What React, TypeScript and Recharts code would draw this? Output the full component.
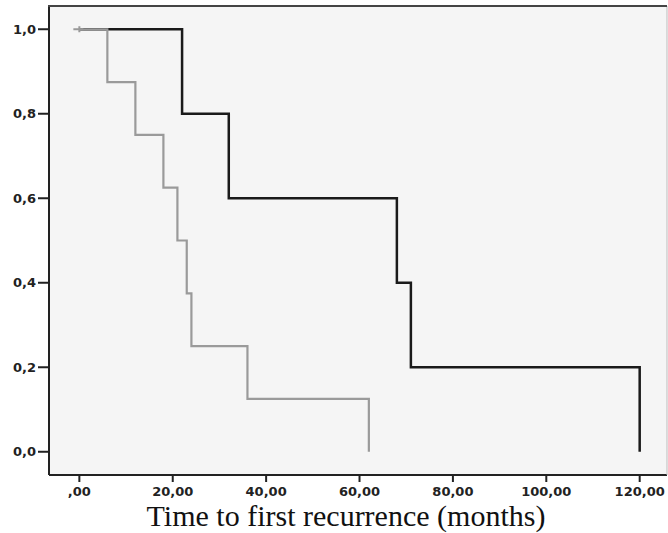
import React from 'react';
import {
  ComposedChart, Line, Scatter, XAxis, YAxis, CartesianGrid,
} from 'recharts';

// Kaplan-Meier steps: time (months) and cumulative recurrence-free proportion
const groupATimes = [0, 22, 32, 68, 71, 120];
const groupASurvival = [1, 0.8, 0.6, 0.4, 0.2, 0];

const groupBTimes = [0, 6, 12, 18, 21, 23, 24, 36, 62];
const groupBSurvival = [1, 0.875, 0.75, 0.625, 0.5, 0.375, 0.25, 0.125, 0];

// censored observations (drawn as +)
const censoredTimes = [0];
const censoredSurvival = [1];

const xTicks = [0, 20, 40, 60, 80, 100, 120];
const yTicks = [0, 0.2, 0.4, 0.6, 0.8, 1];

const xDomain = [-6.5, 125.85];
const yDomain = [-0.055, 1.055];

const groupA = groupATimes.map((t, i) => ({ t, s: groupASurvival[i] }));
const groupB = groupBTimes.map((t, i) => ({ t, s: groupBSurvival[i] }));
const censored = censoredTimes.map((t, i) => ({ t, s: censoredSurvival[i] }));

const W = 668;
const H = 533;
const TOP = 6;
const Y_AXIS_W = 49;
const RIGHT_AXIS_W = 1;

const fmtX = (v: number) => (v === 0 ? ',00' : v.toFixed(2).replace('.', ','));
const fmtY = (v: number) => v.toFixed(1).replace('.', ',');

const tickStyle = {
  fontFamily: 'DejaVu Sans',
  fontSize: 13,
  fontWeight: 'bold',
  fill: '#222',
};

const CensorMark = (props: any) => {
  const { cx, cy } = props;
  return (
    <g stroke="#999" strokeWidth={2}>
      <line x1={cx - 6} y1={cy} x2={cx + 4} y2={cy} />
      <line x1={cx} y1={cy - 3} x2={cx} y2={cy + 3} />
    </g>
  );
};

export default function App() {
  return (
    <div style={{ position: 'absolute', left: 0, top: 0, background: '#fff', width: W, height: H }}>
      <ComposedChart width={W} height={H} margin={{ top: TOP, right: 0, left: 0, bottom: 0 }}>
        <CartesianGrid yAxisId="main" fill="#f5f5f5" horizontal={false} vertical={false} />
        <XAxis
          type="number"
          dataKey="t"
          domain={xDomain}
          ticks={xTicks}
          tickFormatter={fmtX}
          height={58}
          tick={tickStyle}
          tickSize={7}
          tickMargin={5}
          axisLine={{ stroke: '#222', strokeWidth: 2 }}
          tickLine={{ stroke: '#222', strokeWidth: 2 }}
          allowDataOverflow
          label={{
            value: 'Time to first recurrence (months)',
            position: 'insideBottom',
            offset: 7,
            dx: -12,
            style: { fontFamily: 'Liberation Serif', fontSize: 30, fill: '#111' },
          }}
        />
        <YAxis
          yAxisId="main"
          type="number"
          domain={yDomain}
          ticks={yTicks}
          tickFormatter={fmtY}
          width={Y_AXIS_W}
          tick={tickStyle}
          tickSize={11}
          tickMargin={2}
          axisLine={{ stroke: '#222', strokeWidth: 2 }}
          tickLine={{ stroke: '#222', strokeWidth: 2 }}
          allowDataOverflow
        />
        <YAxis yAxisId="right" orientation="right" type="number" domain={[0, 1]} width={RIGHT_AXIS_W} tick={false} tickLine={false}
          axisLine={{ stroke: '#bbb', strokeWidth: 1 }} />
        <Line
          yAxisId="main"
          data={groupA}
          dataKey="s"
          type="stepAfter"
          stroke="#1a1a1a"
          strokeWidth={2.5}
          dot={false}
          isAnimationActive={false}
        />
        <Line
          yAxisId="main"
          data={groupB}
          dataKey="s"
          type="stepAfter"
          stroke="#9a9a9a"
          strokeWidth={2.2}
          dot={false}
          isAnimationActive={false}
        />
        <Scatter
          yAxisId="main"
          data={censored}
          dataKey="s"
          shape={<CensorMark />}
          isAnimationActive={false}
        />
      </ComposedChart>
      {/* top edge of the plot frame */}
      <div
        style={{
          position: 'absolute',
          left: Y_AXIS_W - 1,
          top: TOP - 1,
          width: W - Y_AXIS_W - RIGHT_AXIS_W + 1,
          height: 0,
          borderTop: '2px solid #444',
          pointerEvents: 'none',
        }}
      />
    </div>
  );
}
